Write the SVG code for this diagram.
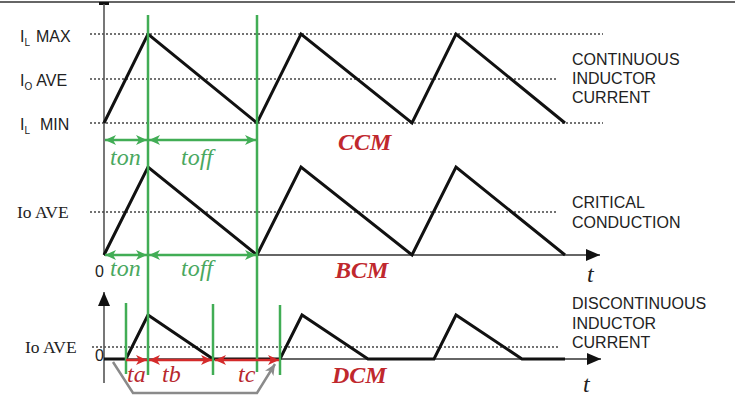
<svg xmlns="http://www.w3.org/2000/svg" width="735" height="412" viewBox="0 0 735 412">
<style>
.wave{fill:none;stroke:#111;stroke-width:3;stroke-linejoin:miter}
.dot{stroke:#444;stroke-width:1.3;stroke-dasharray:2 2;fill:none}
.g{stroke:#41ad55;stroke-width:2.5;fill:none}
.ga{stroke:#41ad55;stroke-width:2.5;fill:none;marker-start:url(#ag);marker-end:url(#ag)}
.ra{stroke:#d42a2a;stroke-width:2.5;fill:none}
.ax{stroke:#555;stroke-width:1.6;fill:none}
.lbl{font-family:"Liberation Sans",Arial,sans-serif;font-size:16px;fill:#222}
.ser{font-family:"Liberation Serif","Times New Roman",serif;font-size:17.5px;fill:#222}
.gt{font-family:"Liberation Serif","Times New Roman",serif;font-style:italic;font-size:24px;fill:#4aa860}
.rt{font-family:"Liberation Serif","Times New Roman",serif;font-style:italic;font-size:24px;fill:#b8282d}
.mode{font-family:"Liberation Serif","Times New Roman",serif;font-style:italic;font-weight:bold;font-size:24px;fill:#c0282d}
.tt{font-family:"Liberation Serif","Times New Roman",serif;font-style:italic;font-size:24px;fill:#222}
</style>
<defs>
<marker id="ag" markerUnits="userSpaceOnUse" markerWidth="12" markerHeight="10" refX="11" refY="5" orient="auto-start-reverse"><path d="M0,0 L11,5 L0,10 L3,5 z" fill="#41ad55"/></marker>
<marker id="ar" markerUnits="userSpaceOnUse" markerWidth="12" markerHeight="10" refX="11" refY="5" orient="auto-start-reverse"><path d="M0,0 L11,5 L0,10 L3,5 z" fill="#d42a2a"/></marker>
<marker id="ak" markerUnits="userSpaceOnUse" markerWidth="14" markerHeight="12" refX="14" refY="6" orient="auto"><path d="M0,0 L14,6 L0,12 z" fill="#111"/></marker>
<marker id="agray" markerUnits="userSpaceOnUse" markerWidth="12" markerHeight="10" refX="11" refY="5" orient="auto"><path d="M0,0 L11,5 L0,10 L3,5 z" fill="#8a8a8a"/></marker>
</defs>

<!-- frame -->
<line x1="0" y1="2" x2="735" y2="2" stroke="#333" stroke-width="1.5"/>
<rect x="99" y="2" width="10" height="3" fill="#111"/>

<!-- CCM -->
<g id="ccm">
<line class="dot" x1="90" y1="34" x2="603" y2="34"/>
<line class="dot" x1="90" y1="79" x2="556" y2="79"/>
<line class="dot" x1="90" y1="123" x2="603" y2="123"/>
<line class="ax" x1="104" y1="4" x2="104" y2="255"/>
<polyline class="wave" points="104,123 148,34 257,123 301,34 412,123 456,34 565,123"/>
<text class="lbl" x="20" y="42">I<tspan font-size="10" dy="4">L</tspan><tspan dy="-4" dx="6">MAX</tspan></text>
<text class="lbl" x="20" y="86">I<tspan font-size="10" dy="4">O</tspan><tspan dy="-4" dx="4">AVE</tspan></text>
<text class="lbl" x="20" y="130">I<tspan font-size="10" dy="4">L</tspan><tspan dy="-4" dx="10">MIN</tspan></text>
<text class="lbl" x="572" y="65">CONTINUOUS</text>
<text class="lbl" x="572" y="84">INDUCTOR</text>
<text class="lbl" x="572" y="103">CURRENT</text>
<text class="mode" x="338" y="150">CCM</text>
</g>

<!-- BCM -->
<g id="bcm">
<line class="dot" x1="90" y1="212" x2="556" y2="212"/>
<line stroke="#333" stroke-width="1.5" x1="104" y1="255" x2="600" y2="255" marker-end="url(#ak)"/>
<polyline class="wave" points="104,255 148,167 257,255 301,167 412,255 456,167 565,255"/>
<text class="ser" x="17" y="218">Io AVE</text>
<text class="lbl" x="95" y="277" font-size="14">0</text>
<text class="lbl" x="572" y="208">CRITICAL</text>
<text class="lbl" x="572" y="228">CONDUCTION</text>
<text class="mode" x="335" y="278">BCM</text>
<text class="tt" x="587" y="282">t</text>
</g>

<!-- DCM -->
<g id="dcm">
<line class="dot" x1="92" y1="347" x2="558" y2="347"/>
<line class="ax" x1="104" y1="383" x2="104" y2="292" marker-end="url(#ak)"/>
<line stroke="#333" stroke-width="1.5" x1="104" y1="359" x2="601" y2="359" marker-end="url(#ak)"/>
<polyline class="wave" points="104,359 126,359 148,315 213,359 280,359 302,315 368,359 434,359 456,315 522,359 565,359"/>
<text class="ser" x="25" y="353">Io AVE</text>
<text class="lbl" x="95" y="361" font-size="14">0</text>
<text class="lbl" x="572" y="309">DISCONTINUOUS</text>
<text class="lbl" x="572" y="329">INDUCTOR</text>
<text class="lbl" x="572" y="348">CURRENT</text>
<text class="mode" x="332" y="383">DCM</text>
<text class="tt" x="583" y="392">t</text>
</g>

<!-- timing markers -->
<g id="timing">
<line class="g" x1="148" y1="15" x2="148" y2="375"/>
<line class="g" x1="257" y1="15" x2="257" y2="372"/>
<line class="g" x1="126" y1="303" x2="126" y2="374"/>
<line class="g" x1="213" y1="304" x2="213" y2="375"/>
<line class="g" x1="280" y1="305" x2="280" y2="375"/>
<line class="ga" x1="105" y1="140" x2="147" y2="140"/>
<line class="ga" x1="149" y1="140" x2="256" y2="140"/>
<line class="ga" x1="105" y1="255" x2="147" y2="255"/>
<line class="ga" x1="149" y1="255" x2="256" y2="255"/>
<text class="gt" x="110" y="165">ton</text>
<text class="gt" x="181" y="165">toff</text>
<text class="gt" x="110" y="276">ton</text>
<text class="gt" x="181" y="276">toff</text>
<line class="ra" x1="126" y1="360" x2="147" y2="360" marker-end="url(#ar)"/>
<line class="ra" x1="149" y1="360" x2="212" y2="360" marker-start="url(#ar)" marker-end="url(#ar)"/>
<line class="ra" x1="215" y1="360" x2="279" y2="360" marker-start="url(#ar)" marker-end="url(#ar)"/>
<text class="rt" x="127" y="382">ta</text>
<text class="rt" x="162" y="382">tb</text>
<text class="rt" x="238" y="382">tc</text>
<polyline points="113,362 133,393 257,393 275,364" fill="none" stroke="#8a8a8a" stroke-width="2.5" marker-end="url(#agray)"/>
</g>
</svg>
